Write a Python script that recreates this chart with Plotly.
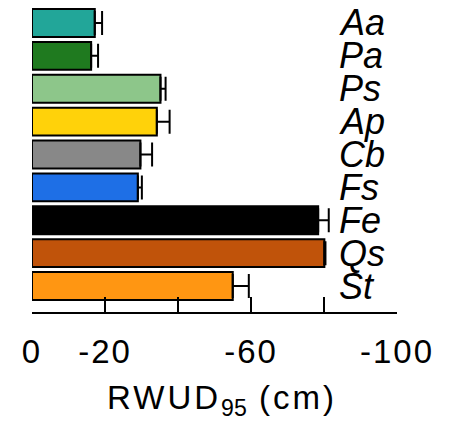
import plotly.graph_objects as go

species = ["Aa", "Pa", "Ps", "Ap", "Cb", "Fs", "Fe", "Qs", "St"]
rwud95 = [-17.2, -16.2, -35.2, -34.2, -29.7, -29.0, -78.4, -80.1, -55.0]
err = [2.0, 1.9, 1.4, 3.5, 3.2, 1.1, 2.9, 0.3, 4.4]
colors = ["#22A699", "#1F7A1F", "#8DC68A", "#FFD20A", "#888888",
          "#1E6FE6", "#000000", "#C0530A", "#FF9612"]
tick_vals = [0, -20, -40, -60, -80, -100]
tick_text = ["0", "-20", "", "-60", "", "-100"]

font_family = "Liberation Sans, Arial, sans-serif"


def spaced(t, px):
    return f'<span style="letter-spacing:{px}px">{t}</span>' if t else t


fig = go.Figure()
fig.add_trace(go.Bar(
    x=rwud95, y=species, orientation="h",
    marker=dict(color=colors, line=dict(color="black", width=2)),
    error_x=dict(type="data", symmetric=False,
                 array=[0] * len(err), arrayminus=err,
                 color="black", thickness=2, width=12),
    showlegend=False,
))

for s in species:
    fig.add_annotation(x=0.8345, xref="paper", y=s, yref="y",
                       text=f"<i>{s}</i>", showarrow=False,
                       xanchor="left", yanchor="middle",
                       font=dict(family=font_family, size=36, color="black"))

fig.add_annotation(x=0.521, xref="paper", y=-0.29, yref="paper",
                   text=spaced("RWUD", 3) + "<sub>95</sub>" + spaced(" (cm)", 3),
                   showarrow=False, xanchor="center", yanchor="middle",
                   font=dict(family=font_family, size=33, color="black"))

fig.update_layout(
    width=450, height=426,
    margin=dict(l=24, r=61, t=0, b=122, autoexpand=False),
    paper_bgcolor="white", plot_bgcolor="white",
    bargap=0.15,
    font=dict(family=font_family, color="black"),
    xaxis=dict(range=[0, -100], tickvals=tick_vals,
               ticktext=[spaced(t, 2) for t in tick_text],
               ticks="inside", ticklen=15, tickwidth=2, tickcolor="black",
               showline=True, linewidth=2, linecolor="black",
               showgrid=False, zeroline=False, automargin=False,
               tickfont=dict(size=33, family=font_family, color="black"),
               ticklabelstandoff=9),
    yaxis=dict(categoryorder="array", categoryarray=species,
               range=[8.79, -0.456], showticklabels=False, ticks="",
               showline=False, showgrid=False, zeroline=False,
               automargin=False),
)

fig.write_html("out.html")
